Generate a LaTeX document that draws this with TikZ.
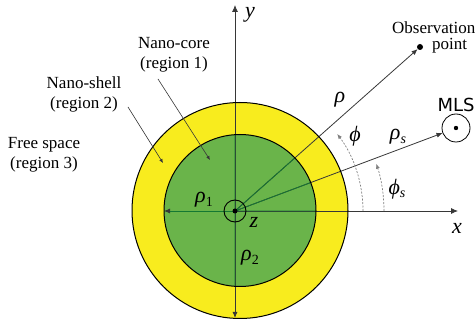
\documentclass[tikz,border=0pt]{standalone}
\usepackage{fontspec}
\setmainfont{Liberation Serif}
\newfontfamily\mlsfont{DejaVu Sans}
\usetikzlibrary{arrows.meta}
\definecolor{shellY}{RGB}{248,236,30}
\definecolor{coreG}{RGB}{106,180,74}
\definecolor{lineG}{RGB}{20,120,50}
\definecolor{lineK}{RGB}{55,55,55}
\newcommand{\lbsub}[2]{\textit{#1}\raisebox{-0.35ex}{\fontsize{14}{14}\selectfont #2}}
\tikzset{
  lbl/.style={font=\fontsize{17}{20}\selectfont, align=center, inner sep=0pt},
  mlbl/.style={font=\fontsize{22}{22}\selectfont\itshape, inner sep=0pt},
  axis/.style={draw=lineK, line width=0.8pt, -{Latex[length=7pt,width=6pt]}},
  vec/.style={draw=lineK, line width=0.8pt, -{Latex[length=6pt,width=5pt]}},
  lead/.style={draw=lineK, line width=0.6pt, -{Latex[length=4pt,width=3.5pt]}},
  angarc/.style={draw=gray, line width=0.7pt, dash pattern=on 2pt off 1.5pt, -{Latex[length=5pt,width=4pt]}},
}
\begin{document}
\begin{tikzpicture}[x=1pt,y=1pt]
\useasboundingbox (0,0) rectangle (475,327);
% circles
\coordinate (C) at (240,116.5);
\coordinate (O) at (235,116);
\fill[shellY] (C) circle (108);
\fill[coreG] (C) circle (76);
% key points
\coordinate (ytop) at (235,322);
\coordinate (ybot) at (235,9);
\coordinate (xend) at (458,116);
\coordinate (r1end) at (164,116);
\node[circle, fill=black, inner sep=0pt, minimum size=6pt] (obs) at (420,280) {};
\node[circle, draw=black, line width=0.8pt, inner sep=0pt, minimum size=28pt] (mls) at (456,199) {};
\fill (mls.center) circle (2.2);
% lines
\draw[axis] (O) -- (ytop);
\draw[axis] (O) -- (xend);
\draw[vec] (O) -- (ybot);
\draw[vec] (O) -- (r1end);
\draw[vec] (O) -- (obs);
\draw[vec] (O) -- (mls);
% recolor lines inside core
\begin{scope}
\clip (C) circle (76);
\draw[lineG, line width=0.8pt] (O) -- (ytop) (O) -- (xend) (O) -- (ybot) (O) -- (obs) (O) -- (mls);
\draw[lineG, line width=0.8pt] (O) -- (170,116);
\end{scope}
% circle outlines
\draw[black, line width=1pt] (C) circle (108);
\draw[black, line width=1pt] (C) circle (76);
% z circle
\draw[black, line width=0.9pt] (O) circle (11);
\fill (O) circle (2.5);
% angle arcs
\draw[angarc] ([shift={(0:128)}]O) arc (0:37:128);
\draw[angarc] ([shift={(0:149)}]O) arc (0:18.5:149);
% labels
\node[mlbl] (ylab) at (250,312) {y};
\node[mlbl] (xlab) at (457,99) {x};
\node[mlbl] (zlab) at (254,105) {z};
\node[mlbl] (rholab) at (340,227) {ρ};
\node[mlbl] (philab) at (355,191) {ϕ};
\node[mlbl] (rho1lab) at (204,127) {\lbsub{ρ}{\upshape 1}};
\node[mlbl] (rho2lab) at (250,69) {\lbsub{ρ}{\upshape 2}};
\node[mlbl] (rhoslab) at (398,190) {\lbsub{ρ}{s}};
\node[mlbl] (phislab) at (397,138) {\lbsub{ϕ}{s}};
\node[inner sep=0pt, font=\mlsfont\fontsize{18}{18}\selectfont] (mlslab) at (456,222) {MLS};
\node[lbl, anchor=west] (obslab) at (392,299) {Observation};
\node[lbl, anchor=west] (ptlab) at (432,281) {point};
\node[lbl] (corelab) at (174,272) {Nano-core\\(region 1)};
\node[lbl] (shelllab) at (84,233) {Nano-shell\\(region 2)};
\node[lbl] (freelab) at (44,172) {Free space\\(region 3)};
% leaders
\coordinate (coretip) at (210,167);
\coordinate (shelltip) at (163,164);
\draw[lead] (158,248) -- (coretip);
\draw[lead] (128,220) -- (shelltip);
\end{tikzpicture}
\end{document}
